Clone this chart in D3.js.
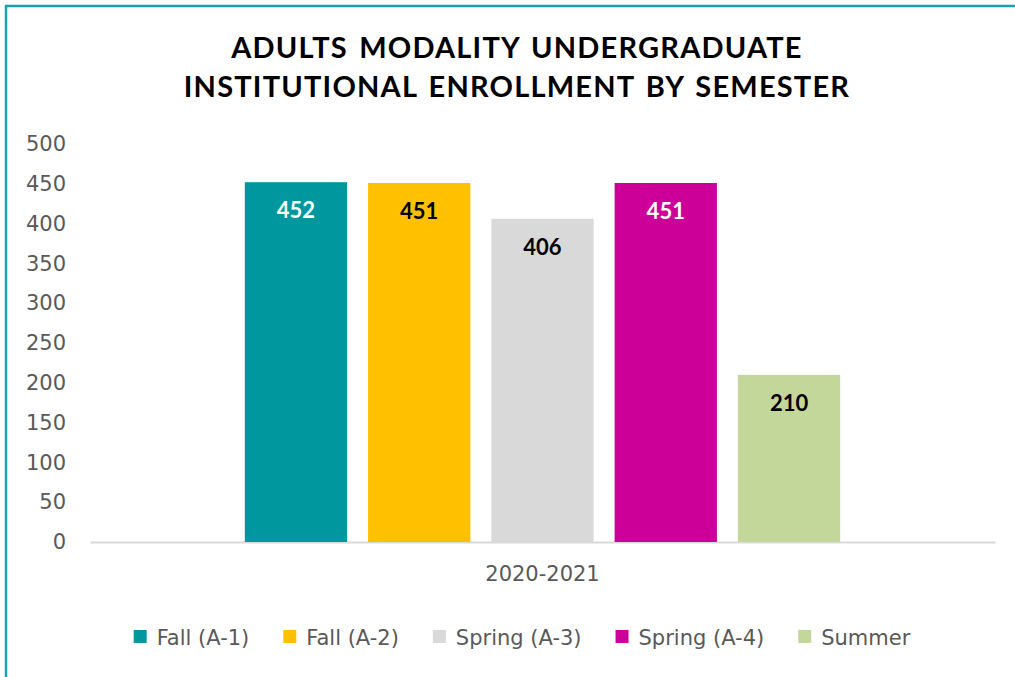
<!DOCTYPE html>
<html>
<head>
<meta charset="utf-8">
<script src="https://cdn.jsdelivr.net/npm/d3@7"></script>
<style>
  html, body { margin: 0; padding: 0; background: #fff; }
  svg { display: block; }
</style>
</head>
<body>
<div id="plot"></div>
<script>
// chart data
const titleLines = ['ADULTS MODALITY UNDERGRADUATE', 'INSTITUTIONAL ENROLLMENT BY SEMESTER'];
const categories = ['2020-2021'];
const seriesNames = ['Fall (A-1)', 'Fall (A-2)', 'Spring (A-3)', 'Spring (A-4)', 'Summer'];
const seriesValues = [452, 451, 406, 451, 210];
const seriesColors = ['#00979F', '#FFC000', '#D9D9D9', '#CC0099', '#C4D79B'];
const labelColors = ['#ffffff', '#000000', '#000000', '#ffffff', '#000000'];
const yTicks = [0, 50, 100, 150, 200, 250, 300, 350, 400, 450, 500];

const width = 1015;
const height = 677;
const margin = {top: 144, right: 20, bottom: 135, left: 90};

const svg = d3.select('#plot')
    .append('svg')
    .attr('width', width)
    .attr('height', height);

// frame (left + top border only)
svg.append('path')
    .attr('d', `M6,${height} L6,6 L${width},6`)
    .attr('fill', 'none')
    .attr('stroke', '#16A2AE')
    .attr('stroke-width', 2.5);

// title
svg.append('text')
    .attr('text-anchor', 'middle')
    .attr('font-family', 'Lato, sans-serif')
    .attr('font-weight', 700)
    .attr('font-size', '29px')
    .attr('letter-spacing', '1.2px')
    .attr('word-spacing', '3px')
    .attr('fill', '#000')
    .selectAll('tspan')
    .data(titleLines)
    .join('tspan')
    .attr('x', 517)
    .attr('y', (d, i) => 58 + i * 39)
    .text(d => d);

const plotLeft = margin.left;
const plotRight = 995;
const plotBottom = 542;

const x0 = d3.scaleBand()
    .domain(categories)
    .range([plotLeft, plotRight])
    .paddingInner(0)
    .paddingOuter(0.26);

const x1 = d3.scaleBand()
    .domain(seriesNames)
    .range([0, x0.bandwidth()])
    .paddingInner(0.17)
    .paddingOuter(0);

const y = d3.scaleLinear()
    .domain([0, 500])
    .range([plotBottom, margin.top]);

// y axis labels
const yAxis = svg.append('g')
    .attr('transform', `translate(${plotLeft - 24},0)`)
    .call(d3.axisLeft(y).tickValues(yTicks).tickSize(0).tickPadding(0));
yAxis.select('.domain').remove();
yAxis.selectAll('text')
    .attr('font-family', 'DejaVu Sans, sans-serif')
    .attr('font-size', '21px')
    .attr('fill', '#595959');

// category axis
const xAxis = svg.append('g')
    .attr('transform', `translate(0,${plotBottom})`)
    .call(d3.axisBottom(x0).tickSize(0).tickPadding(24));
xAxis.select('.domain')
    .attr('stroke', '#D9D9D9')
    .attr('stroke-width', 2);
xAxis.selectAll('text')
    .attr('font-family', 'DejaVu Sans, sans-serif')
    .attr('font-size', '21px')
    .attr('fill', '#595959');

const rows = seriesNames.map((name, i) => ({
    name, value: seriesValues[i], color: seriesColors[i], labelColor: labelColors[i]
}));

const group = svg.append('g')
    .attr('transform', `translate(${x0(categories[0])},0)`);

group.selectAll('rect')
    .data(rows)
    .join('rect')
    .attr('x', d => x1(d.name))
    .attr('y', d => y(d.value))
    .attr('width', x1.bandwidth())
    .attr('height', d => y(0) - y(d.value))
    .attr('fill', d => d.color);

group.selectAll('text.label')
    .data(rows)
    .join('text')
    .attr('class', 'label')
    .attr('x', d => x1(d.name) + x1.bandwidth() / 2)
    .attr('y', d => y(d.value) + 36)
    .attr('text-anchor', 'middle')
    .attr('font-family', 'Lato, sans-serif')
    .attr('font-weight', 700)
    .attr('font-size', '22px')
    .attr('fill', d => d.labelColor)
    .text(d => d.value);

// legend
const legend = svg.append('g');
const items = legend.selectAll('g')
    .data(rows)
    .join('g');
items.append('rect')
    .attr('y', 630)
    .attr('width', 13)
    .attr('height', 13)
    .attr('fill', d => d.color);
items.append('text')
    .attr('x', 23)
    .attr('y', 645)
    .attr('font-family', 'DejaVu Sans, sans-serif')
    .attr('font-size', '21px')
    .attr('fill', '#595959')
    .text(d => d.name);

let cursor = 0;
const gap = 34;
items.each(function () {
    const w = 23 + d3.select(this).select('text').node().getComputedTextLength();
    d3.select(this).attr('transform', `translate(${cursor},0)`);
    cursor += w + gap;
});
const total = cursor - gap;
legend.attr('transform', `translate(${522 - total / 2},0)`);
</script>
</body>
</html>
